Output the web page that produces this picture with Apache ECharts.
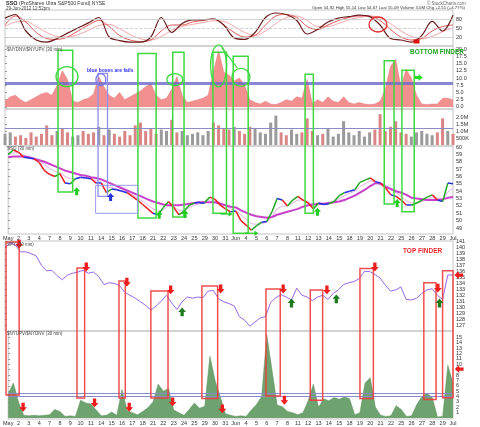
<!DOCTYPE html>
<html>
<head>
<meta charset="UTF-8">
<title>SSO - bottom finder / top finder</title>
<script src="https://cdn.jsdelivr.net/npm/echarts@6.0.0/dist/echarts.min.js"></script>
<style>
    html, body { margin: 0; padding: 0; background: #fff; }
    #main { width: 480px; height: 427px; }
</style>
</head>
<body>
<div id="main"></div>
<script type="text/javascript">
// trading days, May 1 .. Jul 2 (one label per day)
var dayLabels = ['May', '2', '3', '4', '7', '8', '9', '10', '11', '14', '15', '16', '17', '18', '21', '22', '23', '24', '25',
    '29', '30', '31', 'Jun', '4', '5', '6', '7', '8', '11', '12', '13', '14', '15', '18', '19', '20', '21', '22',
    '25', '26', '27', '28', '29', 'Jul'];

// tick labels of the right-hand axes
var oscTicks = [20, 50, 80];
var bfTicks = [0, 2.5, 5, 7.5, 10, 12.5, 15, 17.5, 20];
var volTicks = [0.5, 1, 1.5, 2];
var ssoTicks = [49, 50, 51, 52, 53, 54, 55, 56, 57, 58, 59, 60];
var spyTicks = [127, 128, 129, 130, 131, 132, 133, 134, 135, 136, 137, 138, 139, 140, 141];
var updnTicks = [0, 1, 2, 3, 4, 5, 6, 7, 8, 9, 10, 11, 12, 13, 14, 15, 16];

// oscillator, one value per day
var oscFast = [83, 95, 40, 10, 3, 15, 33, 50, 67, 85, 20, 8, 3, 3, 20, 85, 35, 65, 77, 77, 80, 60, 17, 12, 35, 85,
    100, 95, 75, 30, 45, 70, 83, 88, 93, 88, 60, 15, 10, 3, 25, 72, 40, 93];
var oscMid = [60, 90, 70, 35, 15, 12, 20, 40, 60, 75, 55, 25, 10, 5, 10, 40, 60, 60, 70, 75, 80, 60, 35, 20, 25, 60,
    90, 95, 85, 55, 45, 60, 75, 85, 90, 90, 75, 45, 20, 10, 15, 40, 55, 60];
var oscSlow = [55, 70, 72, 55, 35, 22, 20, 28, 42, 58, 62, 48, 28, 14, 10, 22, 42, 55, 62, 68, 74, 72, 55, 35, 25, 40,
    65, 85, 90, 75, 55, 55, 65, 77, 85, 89, 85, 65, 40, 22, 14, 22, 38, 50];

// the rest: one value per half day
var dnUpRatio = [2.0, 3.5, 4.0, 2.5, 1.5, 2.5, 3.5, 4.5, 5.0, 4.0,
    7.5, 12.5, 9.5, 2.0, 1.5, 2.5, 3.0, 4.5, 10.5, 7.0,
    4.0, 3.0, 5.0, 2.5, 3.5, 4.5, 5.5, 7.0, 8.0, 4.0,
    2.5, 3.0, 6.0, 10.5, 4.0, 1.5, 2.0, 2.5, 3.0, 4.0,
    12.0, 19.5, 12.0, 11.0, 9.0, 10.0, 7.5, 2.5, 1.5, 1.0,
    2.0, 1.0, 0.8, 1.5, 2.5, 2.0, 3.5, 3.0, 9.5, 1.0,
    2.5, 1.5, 3.5, 2.0, 1.5, 3.5, 1.5, 1.0, 1.5, 1.0,
    0.8, 1.0, 2.0, 6.0, 14.0, 16.5, 7.0, 13.0, 10.0, 4.0,
    1.0, 0.8, 1.0, 1.0, 3.0, 3.0, 2.5];
var volume = [0.8, 0.9, 0.6, 0.7, 0.5, 0.9, 0.6, 0.8, 1.4, 0.7,
    1.0, 1.2, 0.9, 0.6, 0.7, 1.0, 0.8, 0.9, 1.3, 0.7,
    1.1, 0.8, 0.6, 1.0, 0.7, 1.4, 1.6, 1.0, 1.2, 0.8,
    1.1, 1.0, 1.8, 0.9, 1.0, 0.7, 0.8, 0.9, 0.7, 1.0,
    1.6, 1.4, 1.2, 1.1, 1.3, 1.0, 0.8, 1.3, 1.2, 0.9,
    0.8, 1.6, 2.1, 0.9, 0.7, 1.1, 0.8, 0.9, 1.9, 1.0,
    0.7, 0.8, 1.2, 0.6, 0.8, 1.7, 0.9, 0.7, 1.0, 0.6,
    0.9, 1.1, 2.2, 1.0, 1.3, 1.7, 0.9, 0.8, 0.6, 0.9,
    1.0, 0.8, 0.7, 0.9, 1.9, 1.0, 0.8];
var ssoPrice = [59.0, 59.6, 59.3, 58.6, 58.5, 58.4, 57.9, 56.8, 56.3, 56.0,
    56.4, 55.1, 55.0, 55.7, 55.9, 55.8, 55.7, 55.1, 55.1, 53.8,
    54.3, 54.2, 54.0, 53.8, 53.3, 52.8, 52.2, 51.6, 51.0, 50.8,
    51.8, 52.6, 51.8, 50.8, 51.3, 52.1, 52.4, 52.5, 52.5, 53.2,
    52.9, 52.1, 51.6, 51.2, 51.3, 50.0, 49.4, 48.7, 49.3, 49.8,
    49.9, 51.2, 53.0, 52.8, 52.0, 52.8, 53.3, 52.8, 52.4, 51.6,
    52.4, 52.2, 52.3, 52.6, 53.4, 53.8, 54.0, 54.2, 55.2, 55.5,
    55.8, 55.3, 55.1, 54.4, 53.5, 53.3, 52.8, 52.1, 52.1, 52.4,
    52.8, 53.2, 53.5, 52.8, 52.6, 55.1, 55.0];
var ssoMaSlow = [58.6, 58.7, 58.7, 58.7, 58.6, 58.4, 58.2, 58.0, 57.7, 57.4,
    57.1, 56.8, 56.6, 56.4, 56.2, 56.1, 55.9, 55.8, 55.6, 55.3,
    55.0, 54.7, 54.4, 54.1, 53.8, 53.5, 53.2, 52.9, 52.6, 52.4,
    52.2, 52.1, 52.1, 52.1, 52.2, 52.3, 52.4, 52.5, 52.5, 52.5,
    52.5, 52.3, 52.1, 51.9, 51.8, 51.4, 51.1, 50.8, 50.6, 50.5,
    50.4, 50.5, 50.8, 51.0, 51.2, 51.4, 51.6, 51.9, 52.1, 52.2,
    52.3, 52.3, 52.4, 52.5, 52.6, 52.8, 53.1, 53.4, 53.8, 54.2,
    54.7, 55.1, 55.0, 54.6, 54.3, 54.0, 53.8, 53.5, 53.1, 53.0,
    52.9, 52.8, 52.8, 52.8, 52.9, 53.1, 53.2];
var ssoMaFast = [58.9, 59.2, 59.2, 58.9, 58.7, 58.5, 58.2, 57.6, 57.1, 56.7,
    56.5, 56.0, 55.7, 55.7, 55.8, 55.8, 55.7, 55.4, 55.2, 54.6,
    54.5, 54.3, 54.1, 53.9, 53.5, 53.1, 52.6, 52.1, 51.6, 51.3,
    51.5, 52.0, 51.9, 51.4, 51.4, 51.8, 52.1, 52.3, 52.4, 52.8,
    52.8, 52.4, 52.0, 51.6, 51.4, 50.8, 50.2, 49.6, 49.5, 49.6,
    49.8, 50.5, 51.6, 52.0, 52.0, 52.4, 52.8, 52.8, 52.6, 52.1,
    52.2, 52.2, 52.3, 52.5, 53.0, 53.4, 53.7, 54.0, 54.6, 55.0,
    55.4, 55.3, 55.2, 54.8, 54.2, 53.8, 53.3, 52.7, 52.4, 52.4,
    52.6, 52.9, 53.2, 53.0, 52.8, 53.9, 54.4];
var spyPrice = [140.0, 140.8, 140.4, 139.3, 139.3, 139.0, 138.6, 137.0, 136.1, 136.2,
    135.3, 134.6, 135.4, 135.7, 135.9, 136.2, 135.7, 135.9, 135.1, 133.8,
    134.1, 134.0, 133.6, 132.5, 132.0, 131.5, 130.9, 130.3, 129.5, 130.2,
    131.0, 132.0, 130.7, 129.6, 130.9, 131.7, 131.5, 131.7, 131.6, 132.7,
    132.8, 131.4, 130.9, 130.6, 130.2, 128.4, 127.8, 126.8, 127.5, 128.2,
    128.4, 130.8, 131.6, 132.1, 131.7, 131.2, 133.2, 132.0, 131.7, 131.1,
    131.7, 132.0, 131.3, 132.3, 132.9, 133.8, 134.1, 134.3, 134.8, 136.0,
    136.0, 135.5, 134.9, 133.7, 132.7, 132.9, 133.4, 131.3, 131.2, 131.5,
    132.3, 132.9, 133.1, 132.0, 131.3, 135.4, 135.4];
var upDnRatio = [4.5, 6.5, 3.0, 0.5, 0.4, 0.5, 0.4, 0.5, 0.6, 1.6,
    1.2, 0.3, 0.4, 0.3, 3.3, 2.8, 2.6, 1.5, 0.4, 0.5,
    1.1, 0.5, 5.3, 1.4, 1.0, 0.6, 1.2, 1.9, 3.0, 6.3,
    5.0, 5.5, 1.5, 1.0, 0.5, 1.6, 2.8, 1.8, 2.2, 11.5,
    7.0, 4.0, 0.8, 0.5, 0.3, 0.4, 0.3, 1.5, 2.5, 4.0,
    15.5, 9.0, 2.4, 2.1, 1.2, 1.0, 0.6, 1.0, 3.2, 6.3,
    2.0, 3.6, 3.2, 3.8, 3.5, 3.9, 3.6, 0.6, 1.0, 6.5,
    7.5, 2.0, 0.5, 0.3, 0.4, 2.3, 1.6, 0.3, 0.4, 2.5,
    4.0, 4.6, 3.8, 0.2, 0.3, 9.8, 6.5];

// hand drawn marks: [fromDay, toDay, top, bottom]
var greenBoxes = [[5.09, 6.24, 19.6, 53.9], [12.76, 14.3, 18.5, 50.35], [16.1, 17.0, 18.9, 50.5],
    [19.96, 21.1, 18.9, 51.0], [21.9, 23.2, 17.5, 48.3], [28.8, 29.5, 11.3, 51.0],
    [36.4, 37.3, 16.0, 52.25], [38.1, 39.25, 12.7, 51.2]];
var blueBoxes = [[8.93, 9.6, 11.6, 53.3]];
var bluePriceBox = [8.45, 12.5, 54.8, 51.0];
var redBoxes = [[0.1, 1.06, 140.95, 4.26], [6.91, 7.39, 136.6, 3.7], [10.94, 11.32, 134.4, 3.7],
    [14.0, 15.45, 132.7, 3.7], [18.9, 20.25, 133.55, 3.65], [25.05, 26.3, 133.05, 4.1],
    [29.3, 30.4, 132.9, 3.3], [34.07, 35.3, 136.5, 3.65], [40.2, 41.36, 134.1, 3.45], [42.0, 43.0, 136.1, 3.75]];
// [day, value, rx, ry]
var bfCircles = [[5.95, 10.5, 11, 10], [16.3, 9.45, 8, 6], [20.5, 14.2, 8, 21], [22.65, 10.2, 9, 9]];
var bfBlueCircle = [9.2, 9.45, 5, 6];
var greenUpSso = [[6.62, 54.0], [14.6, 50.8], [17.1, 50.9], [29.9, 51.2], [37.6, 52.4]];
var blueUpSso = [[9.9, 53.2]];
var redDownSpy = [[1.35, 140.6], [7.8, 136.75], [11.7, 134.2], [15.9, 132.9], [20.7, 133.05], [26.7, 133.05],
    [30.9, 132.9], [35.5, 136.75], [41.55, 133.2]];
var greenUpSpy = [[17.0, 129.2], [27.5, 130.7], [31.8, 131.4], [41.7, 130.7]];
var redDownUpDn = [[1.44, 2.0], [8.35, 2.8], [11.7, 2.0], [15.9, 3.0], [20.7, 1.7], [26.7, 3.3]];

var FONT = '"Liberation Sans", Arial, sans-serif';

function xy(arr, step) {
    return arr.map(function (v, i) { return [i * step, v]; });
}

function xAx(g, show) {
    return {
        type: 'value', gridIndex: g, min: 0, max: 43, interval: 1,
        axisLine: {show: false}, axisTick: {show: false}, splitLine: {show: false},
        axisLabel: {
            show: show, fontSize: 5.5, color: '#333', margin: 1, fontFamily: FONT,
            formatter: function (v) { return dayLabels[v] || ''; }
        }
    };
}

function yAx(g, min, max, ticks, fmt) {
    return {
        type: 'value', gridIndex: g, position: 'right', min: min, max: max,
        axisLine: {show: false}, splitLine: {show: false},
        axisTick: {show: true, length: 2, lineStyle: {color: '#999'}, customValues: ticks},
        axisLabel: {fontSize: 5.5, color: '#333', margin: 3, fontFamily: FONT, customValues: ticks, formatter: fmt}
    };
}

function hLine(vals, color, width, type) {
    return {
        silent: true, symbol: 'none', label: {show: false},
        lineStyle: {color: color, width: width, type: type || 'solid'},
        data: vals.map(function (v) { return {yAxis: v}; })
    };
}

// pink band between the two moving averages
var bandLow = ssoMaFast.map(function (v, i) { return [i * 0.5, Math.min(v, ssoMaSlow[i])]; });
var bandDiff = ssoMaFast.map(function (v, i) { return [i * 0.5, Math.abs(v - ssoMaSlow[i])]; });

// price coloured by direction
var priceSegs = [];
for (var i = 0; i < ssoPrice.length - 1; i++) {
    var d = ssoPrice[i + 1] - ssoPrice[i];
    var c = d > 0.25 ? '#1fa81f' : (d < -0.25 ? '#e82020' : '#2030dd');
    priceSegs.push({coords: [[i * 0.5, ssoPrice[i]], [(i + 1) * 0.5, ssoPrice[i + 1]]], lineStyle: {color: c}});
}

var grids = [
    {top: 10, height: 36},
    {top: 46, height: 63},
    {top: 109, height: 37},
    {top: 146, height: 88},
    {top: 241, height: 90},
    {top: 331, height: 88}
].map(function (g) {
    g.left = 5; g.right = 27; g.show = true; g.borderColor = '#c4c4c4'; g.borderWidth = 1;
    return g;
});

var chart = echarts.init(document.getElementById('main'));

var option = {
    animation: false,
    backgroundColor: '#fff',
    grid: grids,
    xAxis: [xAx(0, false), xAx(1, false), xAx(2, false), xAx(3, true), xAx(4, false), xAx(5, true)],
    yAxis: [
        yAx(0, -10, 110, oscTicks),
        yAx(1, -0.727, 21.09, bfTicks, function (v) { return v.toFixed(1); }),
        yAx(2, -0.071, 2.57, volTicks, function (v) { return v === 0.5 ? '500K' : v.toFixed(1) + 'M'; }),
        yAx(3, 48.19, 60.14, ssoTicks),
        yAx(4, 125.99, 141.12, spyTicks),
        yAx(5, -0.186, 16.19, updnTicks)
    ],
    series: [
        {type: 'line', xAxisIndex: 0, yAxisIndex: 0, data: xy(oscSlow, 1), smooth: 0.35, symbol: 'none',
            lineStyle: {color: '#f2a8a8', width: 1},
            markLine: hLine([80, 20], '#c8c8c8', 0.8)},
        {type: 'line', xAxisIndex: 0, yAxisIndex: 0, data: xy(oscMid, 1), smooth: 0.35, symbol: 'none',
            lineStyle: {color: '#e25a5a', width: 1},
            markLine: hLine([50], '#c8c8c8', 0.8, 'dashed')},
        {type: 'line', xAxisIndex: 0, yAxisIndex: 0, data: xy(oscFast, 1), smooth: 0.35, symbol: 'none',
            lineStyle: {color: '#6b1d1d', width: 1.2}},

        {type: 'line', xAxisIndex: 1, yAxisIndex: 1, data: xy(dnUpRatio, 0.5), symbol: 'none',
            lineStyle: {color: '#e27878', width: 0.5}, areaStyle: {color: '#f29090', opacity: 1, origin: 0},
            markLine: hLine([8.36], 'rgba(105,105,200,0.8)', 3)},

        {type: 'bar', xAxisIndex: 2, yAxisIndex: 2, data: xy(volume, 0.5), barWidth: 3,
            itemStyle: {color: function (p) {
                var k = p.dataIndex;
                return k > 0 && ssoPrice[k] < ssoPrice[k - 1] ? '#d98585' : '#9a9a9a';
            }},
            markLine: hLine([1.21], '#8c8cc4', 1)},

        {type: 'line', xAxisIndex: 3, yAxisIndex: 3, stack: 'band', data: bandLow, symbol: 'none',
            lineStyle: {opacity: 0}},
        {type: 'line', xAxisIndex: 3, yAxisIndex: 3, stack: 'band', data: bandDiff, symbol: 'none',
            lineStyle: {opacity: 0}, areaStyle: {color: '#f1d3ef', opacity: 1}},
        {type: 'line', xAxisIndex: 3, yAxisIndex: 3, data: xy(ssoMaFast, 0.5), symbol: 'none',
            lineStyle: {color: '#e8aee6', width: 1}},
        {type: 'line', xAxisIndex: 3, yAxisIndex: 3, data: xy(ssoMaSlow, 0.5), symbol: 'none',
            lineStyle: {color: '#c940c9', width: 2}},
        {type: 'lines', coordinateSystem: 'cartesian2d', xAxisIndex: 3, yAxisIndex: 3, data: priceSegs,
            lineStyle: {width: 1.5, opacity: 1}, z: 5},

        {type: 'line', xAxisIndex: 4, yAxisIndex: 4, data: xy(spyPrice, 0.5), symbol: 'none',
            lineStyle: {color: '#9a66e8', width: 1}},

        {type: 'line', xAxisIndex: 5, yAxisIndex: 5, data: xy(upDnRatio, 0.5), symbol: 'none',
            lineStyle: {color: '#5d935d', width: 0.5}, areaStyle: {color: '#6ea26e', opacity: 1, origin: 0},
            markLine: hLine([4.55, 4.1], '#8a8ad0', 1)}
    ]
};

chart.setOption(option);

// annotations placed through the chart's own axes
var gfx = [];

function pt(ax, x, y) {
    return chart.convertToPixel({xAxisIndex: ax, yAxisIndex: ax}, [x, y]);
}

function box(axTop, axBot, b, color, w) {
    var a = pt(axTop, b[0], b[2]), c = pt(axBot, b[1], b[3]);
    gfx.push({type: 'rect', silent: true, z: 50,
        shape: {x: a[0], y: a[1], width: c[0] - a[0], height: c[1] - a[1]},
        style: {fill: 'none', stroke: color, lineWidth: w}});
}

function arrow(ax, p, dir, color, s) {
    var c = pt(ax, p[0], p[1]);
    var base = [[0, -4], [3.5, 0], [1.5, 0], [1.5, 4], [-1.5, 4], [-1.5, 0], [-3.5, 0]];
    var pts = base.map(function (q) {
        var r;
        if (dir === 'down') r = [q[0], -q[1]];
        else if (dir === 'left') r = [q[1], q[0]];
        else if (dir === 'right') r = [-q[1], q[0]];
        else r = q;
        return [c[0] + r[0] * s, c[1] + r[1] * s];
    });
    gfx.push({type: 'polygon', silent: true, z: 60, shape: {points: pts}, style: {fill: color}});
}

function ellipse(ax, e, color) {
    var c = pt(ax, e[0], e[1]);
    gfx.push({type: 'ellipse', silent: true, z: 55, shape: {cx: c[0], cy: c[1], rx: e[2], ry: e[3]},
        style: {fill: 'none', stroke: color, lineWidth: 1.3}});
}

function text(x, y, s, color, size, weight) {
    gfx.push({type: 'text', silent: true, z: 70, x: x, y: y,
        style: {text: s, fill: color, fontSize: size, fontWeight: weight || 'normal', fontFamily: FONT,
            verticalAlign: 'middle'}});
}

greenBoxes.forEach(function (b) { box(1, 3, b, '#3fd83f', 1.5); });
blueBoxes.forEach(function (b) { box(1, 3, b, '#8f8fef', 1.3); });
box(3, 3, bluePriceBox, '#9a9af0', 1);
redBoxes.forEach(function (b) { box(4, 5, b, 'rgba(238,60,60,0.9)', 1.5); });

bfCircles.forEach(function (e) { ellipse(1, e, '#3fd83f'); });
ellipse(1, bfBlueCircle, '#7a7af0');
ellipse(0, [35.8, 61.7, 9, 7.5], '#e03030');
var sq = pt(0, 39.5, 5);
gfx.push({type: 'rect', silent: true, z: 60, shape: {x: sq[0] - 3, y: sq[1] - 2, width: 6, height: 4},
    style: {fill: '#e01010'}});
var l1 = pt(1, 20.8, 20.5), l2 = pt(1, 22.3, 13.5);
gfx.push({type: 'line', silent: true, z: 55, shape: {x1: l1[0], y1: l1[1], x2: l2[0], y2: l2[1]},
    style: {stroke: '#3fd83f', lineWidth: 1.2}});

greenUpSso.forEach(function (p) { arrow(3, p, 'up', '#22cc22', 1); });
blueUpSso.forEach(function (p) { arrow(3, p, 'up', '#2233dd', 1); });
arrow(1, [39.7, 10.2], 'right', '#22dd22', 1);
[[20.5, 21.4, 50.9], [22.9, 23.9, 48.3]].forEach(function (a) {
    var p1 = pt(3, a[0], a[2]), p2 = pt(3, a[1], a[2]);
    gfx.push({type: 'line', silent: true, z: 60, shape: {x1: p1[0], y1: p1[1], x2: p2[0], y2: p2[1]},
        style: {stroke: '#22cc22', lineWidth: 1.2}});
    gfx.push({type: 'polygon', silent: true, z: 60,
        shape: {points: [[p2[0] + 3, p2[1]], [p2[0] - 1, p2[1] - 2.5], [p2[0] - 1, p2[1] + 2.5]]},
        style: {fill: '#22cc22'}});
});

redDownSpy.forEach(function (p) { arrow(4, p, 'down', '#ee1c1c', 1.1); });
greenUpSpy.forEach(function (p) { arrow(4, p, 'up', '#1d7a1d', 1.1); });
redDownUpDn.forEach(function (p) { arrow(5, p, 'down', '#ee1c1c', 1.1); });
arrow(4, [43.55, 135.4], 'left', '#ee1c1c', 1.1);
arrow(5, [43.6, 9.1], 'left', '#ee1c1c', 1.1);

// header and panel captions
gfx.push({type: 'text', silent: true, z: 70, x: 6, y: 3.5,
    style: {text: '{b|SSO} (ProShares Ultra S&P500 Fund) NYSE', fill: '#333', fontSize: 5, fontFamily: FONT,
        verticalAlign: 'middle', rich: {b: {fontWeight: 'bold', fontSize: 5.5, fill: '#222'}}}});
text(6, 8.5, '29-Jun-2012 12:52pm', '#444', 4.5);
text(427, 3.5, '\u00a9 StockCharts.com', '#666', 4.5);
text(312, 8, 'Open 54.92 High 55.14 Low 54.67 Last 55.09 Volume 3.0M Chg +2.51 (+4.77%)', '#333', 4.3);
text(7, 49.5, '$NYDNV/$NYUPV (30 min)', '#444', 4.5);
text(7, 149, 'SSO (30 min)', '#444', 4.5);
text(7, 245, 'SPY (30 min)', '#444', 4.5);
text(7, 334, '$NYUPV/$NYDNV (30 min)', '#444', 4.5);
text(87, 71, 'blue boxes are fails', '#3030ee', 5, 'bold');
text(410, 52, 'BOTTOM FINDER', '#1fa51f', 6.5, 'bold');
text(403, 251, 'TOP FINDER', '#ee2a2a', 6.5, 'bold');

chart.setOption({graphic: {elements: gfx}});
</script>
</body>
</html>
